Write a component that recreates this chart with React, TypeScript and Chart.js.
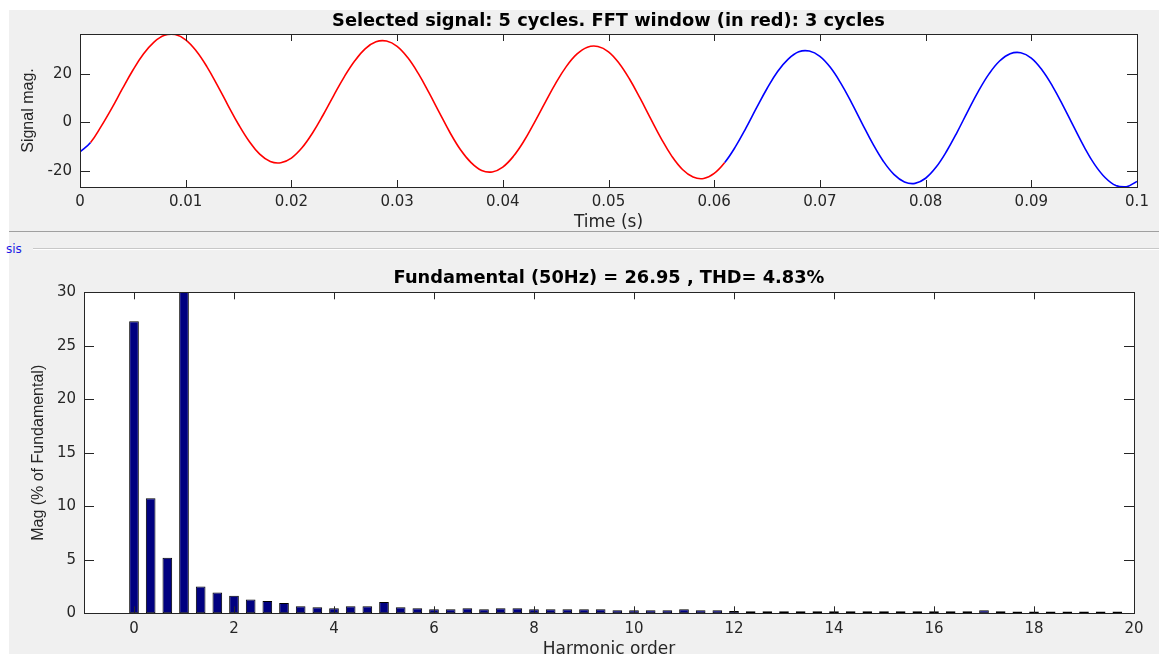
import React, { useEffect, useRef } from 'react';
import { Chart, registerables } from 'chart.js';

Chart.register(...registerables);

// ---------- Top panel: selected signal ----------
const SIGNAL_TITLE = 'Selected signal: 5 cycles. FFT window (in red): 3 cycles';
const SIGNAL_X_LABEL = 'Time (s)';
const SIGNAL_Y_LABEL = 'Signal mag.';

const SIGNAL_TIME_S = [
  0, 0.001, 0.002, 0.003, 0.004, 0.005, 0.006, 0.007, 0.008, 0.009,
  0.01, 0.011, 0.012, 0.013, 0.014, 0.015, 0.016, 0.017, 0.018, 0.019,
  0.02, 0.021, 0.022, 0.023, 0.024, 0.025, 0.026, 0.027, 0.028, 0.029,
  0.03, 0.031, 0.032, 0.033, 0.034, 0.035, 0.036, 0.037, 0.038, 0.039,
  0.04, 0.041, 0.042, 0.043, 0.044, 0.045, 0.046, 0.047, 0.048, 0.049,
  0.05, 0.051, 0.052, 0.053, 0.054, 0.055, 0.056, 0.057, 0.058, 0.059,
  0.06, 0.061, 0.062, 0.063, 0.064, 0.065, 0.066, 0.067, 0.068, 0.069,
  0.07, 0.071, 0.072, 0.073, 0.074, 0.075, 0.076, 0.077, 0.078, 0.079,
  0.08, 0.081, 0.082, 0.083, 0.084, 0.085, 0.086, 0.087, 0.088, 0.089,
  0.09, 0.091, 0.092, 0.093, 0.094, 0.095, 0.096, 0.097, 0.098, 0.099,
  0.1,
];

const SIGNAL_VALUES = [
  -12.2, -8.3, -1.7, 5.7, 13.7, 21.4, 28.1, 33.0, 35.8, 36.1,
  33.9, 29.3, 22.9, 15.2, 7.0, -0.9, -7.8, -13.1, -16.1, -16.6,
  -14.7, -10.5, -4.4, 3.0, 11.0, 18.7, 25.3, 30.3, 33.1, 33.4,
  31.2, 26.6, 20.1, 12.3, 4.0, -4.2, -11.3, -16.6, -19.8, -20.4,
  -18.4, -14.0, -7.7, 0.0, 8.1, 16.0, 22.9, 28.0, 30.9, 31.2,
  29.0, 24.3, 17.7, 9.8, 1.4, -6.8, -14.0, -19.4, -22.5, -23.1,
  -21.0, -16.5, -10.1, -2.4, 5.9, 13.9, 20.9, 26.0, 29.0, 29.3,
  27.1, 22.5, 15.9, 8.0, -0.5, -8.8, -16.0, -21.4, -24.5, -25.1,
  -23.0, -18.4, -11.8, -3.9, 4.6, 12.8, 19.9, 25.2, 28.2, 28.6,
  26.4, 21.6, 14.9, 6.9, -1.7, -10.1, -17.4, -22.8, -26.0, -26.5,
  -24.3,
];

const FFT_WINDOW_START_S = 0.001;
const FFT_WINDOW_END_S = 0.061;

const SIGNAL_X_MIN = 0;
const SIGNAL_X_MAX = 0.1;
const SIGNAL_Y_MIN = -26.6;
const SIGNAL_Y_MAX = 36.3;
const SIGNAL_X_TICKS = [0, 0.01, 0.02, 0.03, 0.04, 0.05, 0.06, 0.07, 0.08, 0.09, 0.1];
const SIGNAL_X_TICK_LABELS = ['0', '0.01', '0.02', '0.03', '0.04', '0.05', '0.06', '0.07', '0.08', '0.09', '0.1'];
const SIGNAL_Y_TICKS = [-20, 0, 20];
const SIGNAL_Y_TICK_LABELS = ['-20', '0', '20'];

// ---------- Bottom panel: FFT spectrum ----------
const FFT_TITLE = 'Fundamental (50Hz) = 26.95 , THD= 4.83%';
const FFT_X_LABEL = 'Harmonic order';
const FFT_Y_LABEL = 'Mag (% of Fundamental)';

const HARMONIC_ORDER = [
  0, 0.3333, 0.6667, 1, 1.3333, 1.6667, 2, 2.3333, 2.6667, 3,
  3.3333, 3.6667, 4, 4.3333, 4.6667, 5, 5.3333, 5.6667, 6, 6.3333,
  6.6667, 7, 7.3333, 7.6667, 8, 8.3333, 8.6667, 9, 9.3333, 9.6667,
  10, 10.3333, 10.6667, 11, 11.3333, 11.6667, 12, 12.3333, 12.6667, 13,
  13.3333, 13.6667, 14, 14.3333, 14.6667, 15, 15.3333, 15.6667, 16, 16.3333,
  16.6667, 17, 17.3333, 17.6667, 18, 18.3333, 18.6667, 19, 19.3333, 19.6667,
];

const HARMONIC_MAG = [
  27.3, 10.75, 5.2, 100, 2.5, 1.95, 1.65, 1.28, 1.15, 0.97,
  0.67, 0.57, 0.48, 0.67, 0.67, 1.05, 0.57, 0.48, 0.38, 0.38,
  0.47, 0.37, 0.47, 0.47, 0.38, 0.37, 0.37, 0.37, 0.37, 0.28,
  0.28, 0.28, 0.28, 0.37, 0.28, 0.28, 0.22, 0.19, 0.19, 0.19,
  0.18, 0.18, 0.18, 0.18, 0.18, 0.18, 0.18, 0.18, 0.18, 0.18,
  0.18, 0.28, 0.18, 0.17, 0.17, 0.17, 0.17, 0.17, 0.17, 0.17,
];

const FFT_X_MIN = -1;
const FFT_X_MAX = 20;
const FFT_Y_MIN = 0;
const FFT_Y_MAX = 30;
const FFT_X_TICKS = [0, 2, 4, 6, 8, 10, 12, 14, 16, 18, 20];
const FFT_Y_TICKS = [0, 5, 10, 15, 20, 25, 30];

// ---------- Styles ----------
const RED = '#ff0000';
const BLUE = '#0000ff';
const BAR_FILL = '#000080';
const AXIS_COLOR = '#262626';
const TICK_FONT = { family: 'DejaVu Sans', size: 15 };
const XTITLE_FONT = { family: 'DejaVu Sans', size: 17 };
const YTITLE_FONT = { family: 'Liberation Sans', size: 16 };
const TITLE_FONT = { family: 'DejaVu Sans', size: 17.8, weight: 'bold' as const };

const matlabAxes = {
  id: 'matlabAxes',
  beforeDraw(chart: any) {
    const { ctx, chartArea } = chart;
    ctx.save();
    ctx.fillStyle = '#ffffff';
    ctx.fillRect(chartArea.left, chartArea.top, chartArea.right - chartArea.left, chartArea.bottom - chartArea.top);
    ctx.restore();
  },
  afterDatasetsDraw(chart: any, _args: any, opts: any) {
    const { ctx, chartArea } = chart;
    const { left, right, top, bottom } = chartArea;
    const xs = chart.scales.x;
    const ys = chart.scales.y;
    ctx.save();
    ctx.strokeStyle = AXIS_COLOR;
    ctx.lineWidth = 1;
    ctx.beginPath();
    for (const t of xs.ticks) {
      const px = Math.round(xs.getPixelForValue(t.value)) + 0.5;
      ctx.moveTo(px, bottom);
      ctx.lineTo(px, bottom - opts.xLen);
      ctx.moveTo(px, top);
      ctx.lineTo(px, top + opts.xLen);
    }
    for (const t of ys.ticks) {
      const py = Math.round(ys.getPixelForValue(t.value)) + 0.5;
      ctx.moveTo(left, py);
      ctx.lineTo(left + opts.yLen, py);
      ctx.moveTo(right, py);
      ctx.lineTo(right - opts.yLen, py);
    }
    ctx.stroke();
    ctx.strokeRect(Math.round(left) + 0.5, Math.round(top) + 0.5, Math.round(right - left), Math.round(bottom - top));
    ctx.restore();
  },
};

function inWindow(i0: number, i1: number) {
  const t0 = SIGNAL_TIME_S[i0];
  const t1 = SIGNAL_TIME_S[i1];
  return t0 >= FFT_WINDOW_START_S - 1e-9 && t1 <= FFT_WINDOW_END_S + 1e-9;
}

export default function App() {
  const topRef = useRef<HTMLCanvasElement>(null);
  const botRef = useRef<HTMLCanvasElement>(null);

  useEffect(() => {
    const topChart = new Chart(topRef.current as HTMLCanvasElement, {
      type: 'line',
      data: {
        datasets: [
          {
            data: SIGNAL_TIME_S.map((t, i) => ({ x: t, y: SIGNAL_VALUES[i] })),
            borderColor: BLUE,
            borderWidth: 1.6,
            pointRadius: 0,
            tension: 0.4,
            fill: false,
            segment: {
              borderColor: (c: any) => (inWindow(c.p0DataIndex, c.p1DataIndex) ? RED : BLUE),
            },
          } as any,
        ],
      },
      options: {
        responsive: false,
        animation: false,
        events: [],
        layout: { padding: { left: 0, right: 22, top: 0, bottom: 0 } },
        plugins: {
          legend: { display: false },
          tooltip: { enabled: false },
          title: {
            display: true,
            text: SIGNAL_TITLE,
            fullSize: false,
            color: '#000000',
            font: TITLE_FONT,
            padding: { top: 10.3, bottom: 2.35 },
          },
          matlabAxes: { xLen: 7, yLen: 10 },
        } as any,
        scales: {
          x: {
            type: 'linear',
            min: SIGNAL_X_MIN,
            max: SIGNAL_X_MAX,
            grid: { display: false, drawTicks: false },
            border: { display: false },
            afterBuildTicks: (s: any) => {
              s.ticks = SIGNAL_X_TICKS.map((v) => ({ value: v }));
            },
            afterFit: (s: any) => {
              s.height = 53;
            },
            ticks: {
              autoSkip: false,
              maxRotation: 0,
              padding: 6,
              color: AXIS_COLOR,
              font: TICK_FONT,
              callback: (_v: any, i: number) => SIGNAL_X_TICK_LABELS[i],
            },
            title: {
              display: true,
              text: SIGNAL_X_LABEL,
              color: AXIS_COLOR,
              font: XTITLE_FONT,
              padding: { top: 0, bottom: 7 },
            },
          },
          y: {
            type: 'linear',
            min: SIGNAL_Y_MIN,
            max: SIGNAL_Y_MAX,
            grid: { display: false, drawTicks: false },
            border: { display: false },
            afterBuildTicks: (s: any) => {
              s.ticks = SIGNAL_Y_TICKS.map((v) => ({ value: v }));
            },
            afterFit: (s: any) => {
              s.width = 80;
            },
            ticks: {
              padding: 8,
              color: AXIS_COLOR,
              font: TICK_FONT,
              callback: (_v: any, i: number) => SIGNAL_Y_TICK_LABELS[i],
            },
            title: {
              display: true,
              text: SIGNAL_Y_LABEL,
              color: AXIS_COLOR,
              font: YTITLE_FONT,
              padding: { top: 19.4, bottom: 0 },
            },
          },
        },
      } as any,
      plugins: [matlabAxes],
    });

    const botChart = new Chart(botRef.current as HTMLCanvasElement, {
      type: 'bar',
      data: {
        datasets: [
          {
            data: HARMONIC_ORDER.map((h, i) => ({ x: h, y: HARMONIC_MAG[i] })),
            backgroundColor: BAR_FILL,
            borderColor: '#000000',
            borderWidth: 1,
            borderSkipped: false,
            barPercentage: 0.58,
            categoryPercentage: 1,
          } as any,
        ],
      },
      options: {
        responsive: false,
        animation: false,
        events: [],
        layout: { padding: { left: 0, right: 25, top: 0, bottom: 0 } },
        plugins: {
          legend: { display: false },
          tooltip: { enabled: false },
          title: {
            display: true,
            text: FFT_TITLE,
            fullSize: false,
            color: '#000000',
            font: TITLE_FONT,
            padding: { top: 27.8, bottom: 3.15 },
          },
          matlabAxes: { xLen: 7, yLen: 10 },
        } as any,
        scales: {
          x: {
            type: 'linear',
            min: FFT_X_MIN,
            max: FFT_X_MAX,
            offset: false,
            grid: { display: false, drawTicks: false, offset: false },
            border: { display: false },
            afterBuildTicks: (s: any) => {
              s.ticks = FFT_X_TICKS.map((v) => ({ value: v }));
            },
            afterFit: (s: any) => {
              s.height = 56.7;
            },
            ticks: {
              autoSkip: false,
              maxRotation: 0,
              padding: 6.7,
              color: AXIS_COLOR,
              font: TICK_FONT,
              callback: (v: any) => String(v),
            },
            title: {
              display: true,
              text: FFT_X_LABEL,
              color: AXIS_COLOR,
              font: XTITLE_FONT,
              padding: { top: 0, bottom: 9.8 },
            },
          },
          y: {
            type: 'linear',
            min: FFT_Y_MIN,
            max: FFT_Y_MAX,
            grid: { display: false, drawTicks: false },
            border: { display: false },
            afterBuildTicks: (s: any) => {
              s.ticks = FFT_Y_TICKS.map((v) => ({ value: v }));
            },
            afterFit: (s: any) => {
              s.width = 84;
            },
            ticks: {
              padding: 8,
              color: AXIS_COLOR,
              font: TICK_FONT,
              callback: (v: any) => String(v),
            },
            title: {
              display: true,
              text: FFT_Y_LABEL,
              color: AXIS_COLOR,
              font: YTITLE_FONT,
              padding: { top: 29.4, bottom: 0 },
            },
          },
        },
      } as any,
      plugins: [matlabAxes],
    });

    return () => {
      topChart.destroy();
      botChart.destroy();
    };
  }, []);

  return (
    <div
      style={{
        position: 'fixed',
        left: 0,
        top: 0,
        width: 1159,
        height: 654,
        overflow: 'hidden',
        background: '#ffffff',
      }}
    >
      <div style={{ position: 'absolute', left: 9, top: 10, width: 1150, height: 644, background: '#f0f0f0' }} />
      <div style={{ position: 'absolute', left: 9, top: 231, width: 1150, height: 1, background: '#a0a0a0' }} />
      <div style={{ position: 'absolute', left: 33, top: 248, width: 1126, height: 1, background: '#c8c8c8' }} />
      <div style={{ position: 'absolute', left: 33, top: 249, width: 1126, height: 1, background: '#ffffff' }} />
      <div
        style={{
          position: 'absolute',
          left: 6,
          top: 242,
          fontFamily: 'DejaVu Sans',
          fontSize: 12,
          lineHeight: '14px',
          color: '#1a1ae6',
        }}
      >
        sis
      </div>
      <canvas
        ref={topRef}
        width={1159}
        height={240}
        style={{ position: 'absolute', left: 0, top: 0, width: 1159, height: 240 }}
      />
      <canvas
        ref={botRef}
        width={1159}
        height={430}
        style={{ position: 'absolute', left: 0, top: 240, width: 1159, height: 430 }}
      />
    </div>
  );
}
